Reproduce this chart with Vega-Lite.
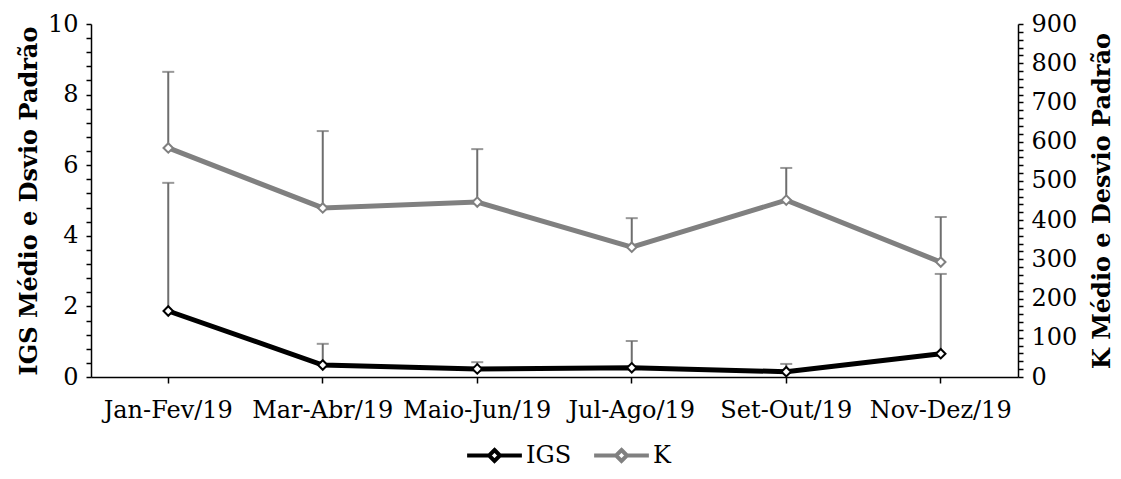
{
  "$schema": "https://vega.github.io/schema/vega-lite/v6.json",
  "width": 927,
  "height": 353,
  "autosize": {"type": "none"},
  "padding": {"left": 91, "top": 24, "right": 103, "bottom": 102},
  "background": "white",
  "config": {
    "view": {"stroke": null},
    "font": "DejaVu Serif",
    "axis": {"labelFont": "DejaVu Serif", "titleFont": "DejaVu Serif", "labelColor": "black", "titleColor": "black", "domainColor": "black", "tickColor": "black", "domainWidth": 1.5, "tickWidth": 1.5, "tickSize": 5, "labelFontSize": 24, "titleFontSize": 24, "titleFontWeight": "bold", "grid": false, "labelOverlap": false, "labelFlush": false}
  },
  "data": {
    "values": [
      {"period": "Jan-Fev/19", "series": "IGS", "mean": 1.87, "upper": 5.5},
      {"period": "Mar-Abr/19", "series": "IGS", "mean": 0.34, "upper": 0.94},
      {"period": "Maio-Jun/19", "series": "IGS", "mean": 0.23, "upper": 0.42},
      {"period": "Jul-Ago/19", "series": "IGS", "mean": 0.26, "upper": 1.02},
      {"period": "Set-Out/19", "series": "IGS", "mean": 0.15, "upper": 0.37},
      {"period": "Nov-Dez/19", "series": "IGS", "mean": 0.66, "upper": 2.92},
      {"period": "Jan-Fev/19", "series": "K", "mean": 584, "upper": 778},
      {"period": "Mar-Abr/19", "series": "K", "mean": 431, "upper": 627},
      {"period": "Maio-Jun/19", "series": "K", "mean": 446, "upper": 581},
      {"period": "Jul-Ago/19", "series": "K", "mean": 331, "upper": 405},
      {"period": "Set-Out/19", "series": "K", "mean": 451, "upper": 533},
      {"period": "Nov-Dez/19", "series": "K", "mean": 293, "upper": 408}
    ]
  },
  "encoding": {
    "x": {
      "field": "period", "type": "nominal",
      "sort": ["Jan-Fev/19", "Mar-Abr/19", "Maio-Jun/19", "Jul-Ago/19", "Set-Out/19", "Nov-Dez/19"],
      "axis": {"title": null, "labelAngle": 0, "labelPadding": 15, "tickSize": 6}
    }
  },
  "layer": [
    {
      "transform": [{"filter": "datum.series == 'IGS'"}],
      "encoding": {
        "y": {
          "field": "mean", "type": "quantitative",
          "scale": {"domain": [0, 10], "nice": false},
          "axis": {
            "orient": "left",
            "title": "IGS Médio e Dsvio Padrão",
            "values": [0, 0.4, 0.8, 1.2, 1.6, 2, 2.4, 2.8, 3.2, 3.6, 4, 4.4, 4.8, 5.2, 5.6, 6, 6.4, 6.8, 7.2, 7.6, 8, 8.4, 8.8, 9.2, 9.6, 10],
            "labelExpr": "abs(round(datum.value / 2) * 2 - datum.value) < 0.001 ? '' + round(datum.value) : ''",
            "labelPadding": 8,
            "titlePadding": 6
          }
        }
      },
      "layer": [
        {"mark": {"type": "rule", "color": "#6e6e6e", "strokeWidth": 2}, "encoding": {"y2": {"field": "upper"}}},
        {"mark": {"type": "tick", "color": "#6e6e6e", "size": 12, "thickness": 2}, "encoding": {"y": {"field": "upper", "type": "quantitative"}}},
        {"mark": {"type": "line", "strokeWidth": 5}, "encoding": {"color": {"field": "series", "type": "nominal", "scale": {"domain": ["IGS", "K"], "range": ["black", "#808080"]},
          "legend": {"orient": "none", "legendX": 374, "legendY": 402, "direction": "horizontal", "title": null, "symbolType": "M-1,0H-0.22M0.22,0H1M0,-0.2L0.2,0L0,0.2L-0.2,0Z", "symbolSize": 3000, "symbolStrokeWidth": 4, "labelFontSize": 24, "labelFont": "DejaVu Serif", "labelColor": "black", "labelOffset": 2, "columnPadding": 14}}}},
        {"mark": {"type": "point", "shape": "diamond", "filled": true, "fill": "white", "stroke": "black", "strokeWidth": 2, "size": 90, "opacity": 1}}
      ]
    },
    {
      "transform": [{"filter": "datum.series == 'K'"}],
      "encoding": {
        "y": {
          "field": "mean", "type": "quantitative",
          "scale": {"domain": [0, 900], "nice": false},
          "axis": {
            "orient": "right",
            "title": "K Médio e Desvio Padrão",
            "titleAngle": 270,
            "titleBaseline": "top",
            "values": [0, 20, 40, 60, 80, 100, 120, 140, 160, 180, 200, 220, 240, 260, 280, 300, 320, 340, 360, 380, 400, 420, 440, 460, 480, 500, 520, 540, 560, 580, 600, 620, 640, 660, 680, 700, 720, 740, 760, 780, 800, 820, 840, 860, 880, 900],
            "labelExpr": "datum.value % 100 == 0 ? '' + datum.value : ''",
            "labelPadding": 8,
            "titlePadding": 14
          }
        }
      },
      "layer": [
        {"mark": {"type": "rule", "color": "#6e6e6e", "strokeWidth": 2}, "encoding": {"y2": {"field": "upper"}}},
        {"mark": {"type": "tick", "color": "#6e6e6e", "size": 12, "thickness": 2}, "encoding": {"y": {"field": "upper", "type": "quantitative"}}},
        {"mark": {"type": "line", "strokeWidth": 5}, "encoding": {"color": {"field": "series", "type": "nominal"}}},
        {"mark": {"type": "point", "shape": "diamond", "filled": true, "fill": "white", "stroke": "#808080", "strokeWidth": 2, "size": 90, "opacity": 1}}
      ]
    }
  ],
  "resolve": {"scale": {"y": "independent"}}
}
